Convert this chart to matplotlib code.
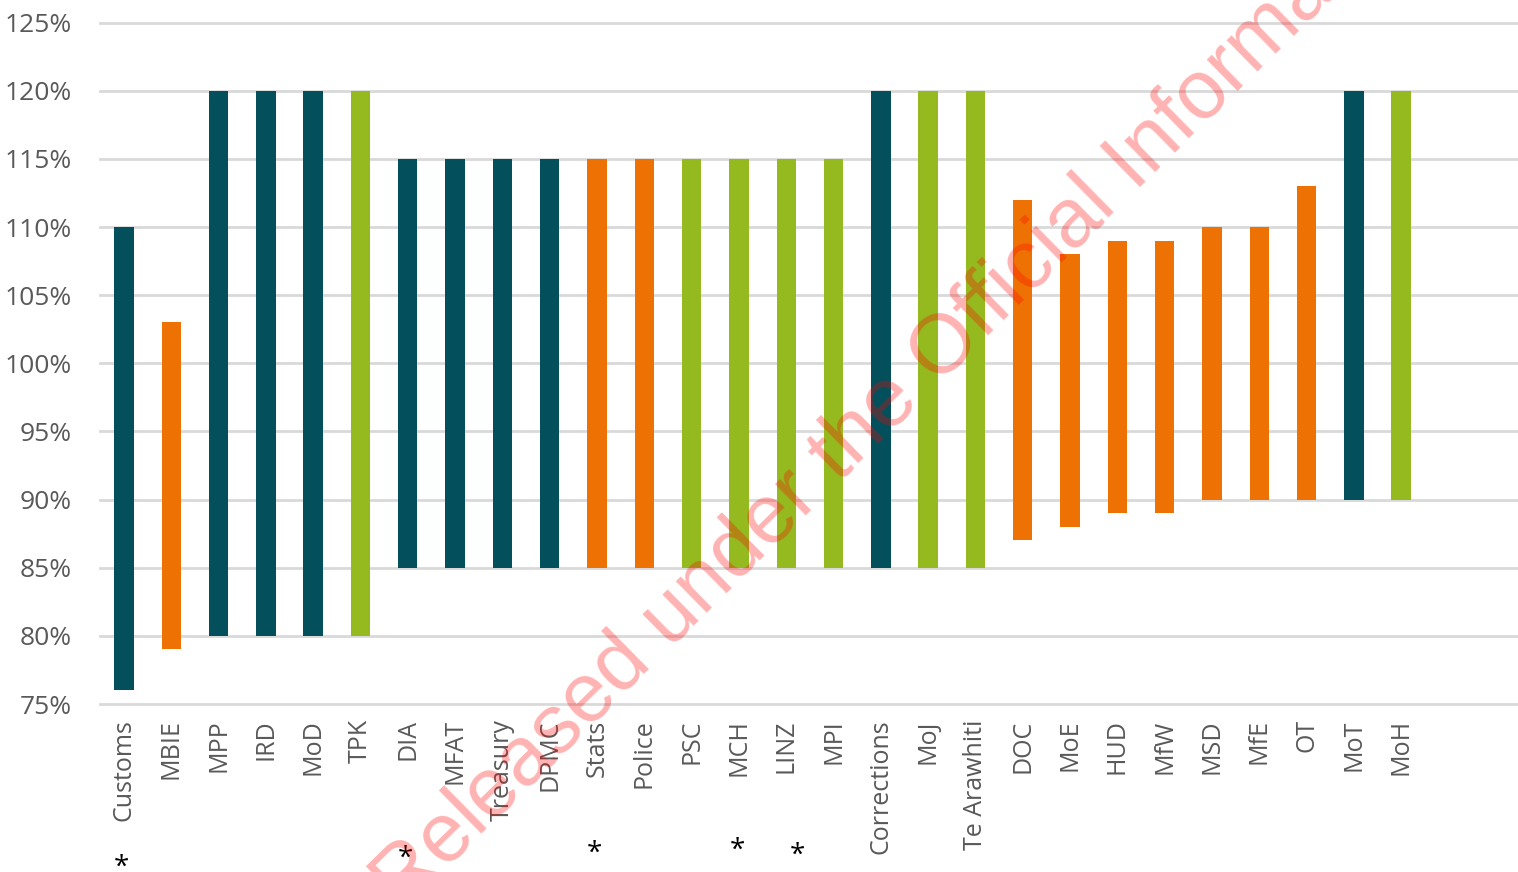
import numpy as np
import matplotlib.pyplot as plt
from matplotlib.transforms import blended_transform_factory

# agencies and their ranges (low / high, %)
agencies = ["Customs", "MBIE", "MPP", "IRD", "MoD", "TPK", "DIA", "MFAT", "Treasury", "DPMC",
            "Stats", "Police", "PSC", "MCH", "LINZ", "MPI", "Corrections", "MoJ", "Te Arawhiti",
            "DOC", "MoE", "HUD", "MfW", "MSD", "MfE", "OT", "MoT", "MoH"]
low = [76, 79, 80, 80, 80, 80, 85, 85, 85, 85,
       85, 85, 85, 85, 85, 85, 85, 85, 85,
       87, 88, 89, 89, 90, 90, 90, 90, 90]
high = [110, 103, 120, 120, 120, 120, 115, 115, 115, 115,
        115, 115, 115, 115, 115, 115, 120, 120, 120,
        112, 108, 109, 109, 110, 110, 113, 120, 120]
group = ["t", "o", "t", "t", "t", "g", "t", "t", "t", "t",
         "o", "o", "g", "g", "g", "g", "t", "g", "g",
         "o", "o", "o", "o", "o", "o", "o", "t", "g"]
starred = ["Customs", "DIA", "Stats", "MCH", "LINZ"]

colors = {"t": "#03505C", "o": "#EE7203", "g": "#95BA1F"}
txt = "#595959"
font = "Open Sans"

W, H = 1518, 872
fig = plt.figure(figsize=(W / 100, H / 100), dpi=100)
ax = fig.add_axes([100 / W, 1 - 704 / H, 1 - 100 / W, (704 - 22.7) / H])

x = np.arange(len(agencies))
ax.bar(x, np.array(high) - np.array(low), bottom=low, width=0.41,
       color=[colors[g] for g in group], zorder=3)

ax.set_ylim(75, 125)
ax.set_xlim(-0.507, 29.47)
ax.set_yticks(range(75, 126, 5))
ax.set_yticklabels([f"{v}%" for v in range(75, 126, 5)], fontsize=19, color=txt, family=font)
ax.set_xticks(x)
ax.set_xticklabels(agencies, rotation=90, fontsize=18, color=txt, family=font, va="top")
ax.tick_params(axis="both", length=0)
ax.tick_params(axis="y", pad=20)
ax.tick_params(axis="x", pad=11)
ax.grid(axis="y", color="#D9D9D9", linewidth=2, zorder=0)
for s in ax.spines.values():
    s.set_visible(False)
for gl in ax.get_ygridlines():
    gl.set_clip_on(False)

# asterisks under some labels
tr = blended_transform_factory(ax.transData, fig.transFigure)
star_dx = [-0.05, -0.05, -0.06, -0.04, 0.23]
star_y = [860, 851, 846, 843, 848]
for name, dx, yp in zip(starred, star_dx, star_y):
    ax.text(agencies.index(name) + dx, 1 - (yp + 8) / H, "*", transform=tr,
            ha="center", va="center", fontsize=20, color="black", family=font)

# watermark
fig.text(402 / W, 1 - 912 / H, "Released under the Official Information Act",
         rotation=44.5, rotation_mode="anchor", ha="left", va="baseline",
         fontsize=60, color="#FF0000", alpha=0.3, family="Liberation Sans", zorder=10)

fig.savefig("out.png", dpi=100)
